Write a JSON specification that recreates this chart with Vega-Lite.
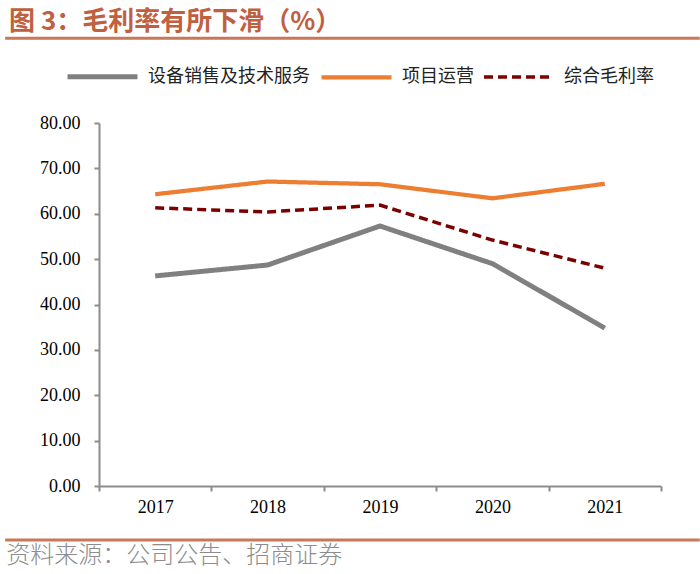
{
  "$schema": "https://vega.github.io/schema/vega-lite/v6.json",
  "width": 562,
  "height": 363,
  "autosize": {"type": "none"},
  "padding": {"left": 99, "top": 123, "right": 39, "bottom": 88},
  "background": "white",
  "config": {"view": {"stroke": null}, "font": "Noto Sans CJK SC"},
  "resolve": {"scale": {"x": "independent"}},
  "layer": [
    {
      "data": {"values": [
        {"year": "2017", "series": "设备销售及技术服务", "value": 46.3},
        {"year": "2018", "series": "设备销售及技术服务", "value": 48.7},
        {"year": "2019", "series": "设备销售及技术服务", "value": 57.3},
        {"year": "2020", "series": "设备销售及技术服务", "value": 49.0},
        {"year": "2021", "series": "设备销售及技术服务", "value": 34.8},
        {"year": "2017", "series": "项目运营", "value": 64.3},
        {"year": "2018", "series": "项目运营", "value": 67.1},
        {"year": "2019", "series": "项目运营", "value": 66.5},
        {"year": "2020", "series": "项目运营", "value": 63.4},
        {"year": "2021", "series": "项目运营", "value": 66.6},
        {"year": "2017", "series": "综合毛利率", "value": 61.3},
        {"year": "2018", "series": "综合毛利率", "value": 60.4},
        {"year": "2019", "series": "综合毛利率", "value": 61.9},
        {"year": "2020", "series": "综合毛利率", "value": 54.2},
        {"year": "2021", "series": "综合毛利率", "value": 48.0}
      ]},
      "mark": {"type": "line", "strokeCap": "butt"},
      "encoding": {
        "x": {
          "field": "year", "type": "ordinal",
          "scale": {"type": "band", "paddingInner": 0, "paddingOuter": 0},
          "axis": {"title": null, "labelAngle": 0, "labelFont": "Liberation Serif", "labelFontSize": 18, "labelColor": "#000",
                   "domainColor": "#8c8c8c", "domainWidth": 2, "tickColor": "#8c8c8c", "tickWidth": 2, "tickSize": 5,
                   "tickBand": "extent", "labelPadding": 7}
        },
        "y": {
          "field": "value", "type": "quantitative",
          "scale": {"domain": [0, 80]},
          "axis": {"title": null, "values": [0, 10, 20, 30, 40, 50, 60, 70, 80], "format": ".2f", "grid": false,
                   "labelFont": "Liberation Serif", "labelFontSize": 18, "labelColor": "#000",
                   "domainColor": "#8c8c8c", "domainWidth": 2, "tickColor": "#8c8c8c", "tickWidth": 2, "tickSize": 5, "labelPadding": 14}
        },
        "color": {
          "field": "series", "type": "nominal",
          "scale": {"domain": ["设备销售及技术服务", "项目运营", "综合毛利率"], "range": ["#808080", "#ED7D31", "#7B0000"]},
          "legend": {"title": null, "orient": "none", "legendX": -34, "legendY": -84, "direction": "horizontal",
                     "symbolType": "stroke", "symbolSize": 4900, "symbolStrokeWidth": 5, "labelFontSize": 18,
                     "labelColor": "#222", "labelOffset": 8, "columnPadding": 3, "labelLimit": 300}
        },
        "strokeDash": {
          "field": "series", "type": "nominal",
          "scale": {"domain": ["设备销售及技术服务", "项目运营", "综合毛利率"], "range": [[1, 0], [1, 0], [9, 5]]},
          "legend": {"title": null, "orient": "none", "legendX": -34, "legendY": -84, "direction": "horizontal",
                     "symbolType": "stroke", "symbolSize": 4900, "symbolStrokeWidth": 5, "labelFontSize": 18,
                     "labelColor": "#222", "labelOffset": 8, "columnPadding": 3, "labelLimit": 300}
        },
        "strokeWidth": {
          "field": "series", "type": "nominal",
          "scale": {"domain": ["设备销售及技术服务", "项目运营", "综合毛利率"], "range": [5, 3.5, 5]},
          "legend": null
        }
      }
    },
    {
      "data": {"values": [{}]},
      "mark": {"type": "rule", "color": "#C87858", "strokeWidth": 3},
      "encoding": {
        "x": {"datum": -16.7, "type": "quantitative", "scale": {"domain": [0, 100]}, "axis": null},
        "x2": {"datum": 106.9},
        "y": {"datum": 98.7, "type": "quantitative"}
      }
    },
    {
      "data": {"values": [{}]},
      "mark": {"type": "rule", "color": "#C87858", "strokeWidth": 3},
      "encoding": {
        "x": {"datum": -16.7, "type": "quantitative", "scale": {"domain": [0, 100]}, "axis": null},
        "x2": {"datum": 106.9},
        "y": {"datum": -11.9, "type": "quantitative"}
      }
    },
    {
      "data": {"values": [{}]},
      "mark": {"type": "text", "text": "图 3：毛利率有所下滑（%）", "align": "left", "baseline": "middle",
               "fontSize": 26, "fontWeight": "bold", "color": "#C0603F", "font": "Noto Sans CJK SC"},
      "encoding": {
        "x": {"datum": -16.0, "type": "quantitative", "scale": {"domain": [0, 100]}, "axis": null},
        "y": {"datum": 102.3, "type": "quantitative"}
      }
    },
    {
      "data": {"values": [{}]},
      "mark": {"type": "text", "text": "资料来源：公司公告、招商证券", "align": "left", "baseline": "middle",
               "fontSize": 24, "color": "#8C8C8C", "font": "Noto Sans CJK SC", "fontWeight": 300},
      "encoding": {
        "x": {"datum": -16.5, "type": "quantitative", "scale": {"domain": [0, 100]}, "axis": null},
        "y": {"datum": -15.4, "type": "quantitative"}
      }
    }
  ]
}
